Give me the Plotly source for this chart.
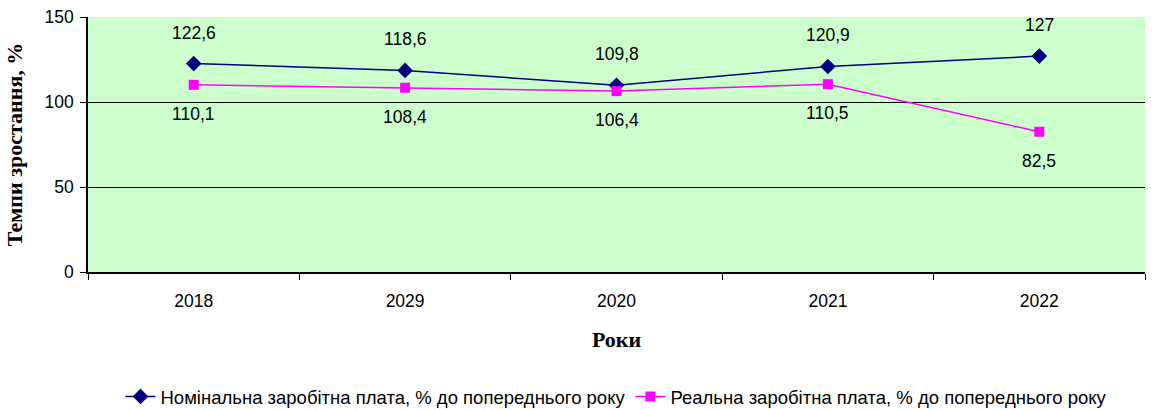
import plotly.graph_objects as go

years = ["2018", "2029", "2020", "2021", "2022"]
nominal = [122.6, 118.6, 109.8, 120.9, 127]
real = [110.1, 108.4, 106.4, 110.5, 82.5]
name_nominal = "Номінальна заробітна плата, % до попереднього року"
name_real = "Реальна заробітна плата, % до попереднього року"

fig = go.Figure()
fig.add_trace(go.Scatter(
    x=years, y=nominal, name=name_nominal, mode="lines+markers",
    line=dict(color="#000080", width=1.5),
    marker=dict(symbol="diamond", size=12, color="#000080"),
))
fig.add_trace(go.Scatter(
    x=years, y=real, name=name_real, mode="lines+markers",
    line=dict(color="#FF00FF", width=1.5),
    marker=dict(symbol="square", size=10, color="#FF00FF"),
))

def fmt(v):
    return ("%g" % v).replace(".", ",")

label_font = dict(family="Liberation Sans, Arial", size=17.5, color="black")
for i, y in enumerate(nominal):
    fig.add_annotation(x=i, y=y, xref="x", yref="y", text=fmt(y), showarrow=False,
                       yshift=31, font=label_font)
for i, y in enumerate(real):
    fig.add_annotation(x=i, y=y, xref="x", yref="y", text=fmt(y), showarrow=False,
                       yshift=-29, font=label_font)

title_font = dict(family="Liberation Serif, Times New Roman", size=22, color="black")
fig.update_layout(
    width=1153, height=410,
    margin=dict(l=88, r=8, t=17, b=138, autoexpand=False),
    paper_bgcolor="white",
    plot_bgcolor="#CCFFCC",
    font=dict(family="Liberation Sans, Arial", size=17.5, color="black"),
    showlegend=True,
    legend=dict(orientation="h", x=0.5, xanchor="center", yref="container", y=0.032,
                yanchor="middle", font=dict(size=18.5), tracegroupgap=0),
    xaxis=dict(
        type="category", range=[-0.5, 4.5],
        showline=True, linecolor="black", linewidth=1.5,
        ticks="outside", ticklen=6, tickcolor="black", tickson="boundaries",
        ticklabelstandoff=12,
        showgrid=False, zeroline=False,
        title=dict(text="<b>Роки</b>", font=title_font, standoff=22),
    ),
    yaxis=dict(
        range=[0, 150], tickvals=[0, 50, 100, 150],
        showline=True, linecolor="black", linewidth=1.5,
        ticks="outside", ticklen=6, tickcolor="black",
        ticklabelstandoff=3,
        showgrid=True, gridcolor="black", gridwidth=1.2,
        zeroline=False,
        title=dict(text="<b>Темпи зростання, %</b>", font=title_font, standoff=16),
    ),
)
fig.write_html("out.html", config={"displayModeBar": False},
               post_script="document.body.style.margin='0';document.body.style.overflow='hidden';")
